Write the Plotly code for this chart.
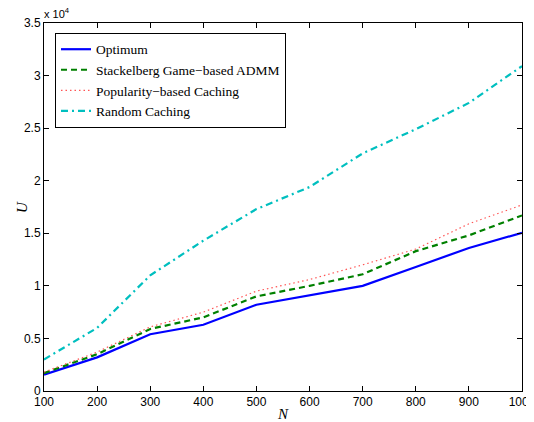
import plotly.graph_objects as go

N = [100, 200, 300, 400, 500, 600, 700, 800, 900, 1000]
optimum = [1550, 3200, 5400, 6300, 8200, 9100, 10000, 11800, 13600, 15050]
stackelberg = [1700, 3500, 5900, 7000, 9000, 10000, 11100, 13300, 14800, 16700]
popularity = [1800, 3700, 6100, 7500, 9500, 10600, 12000, 13500, 15900, 17700]
random_caching = [3000, 6000, 11000, 14300, 17300, 19400, 22600, 24900, 27400, 30900]

y_ticks = [0, 5000, 10000, 15000, 20000, 25000, 30000, 35000]
y_tick_text = ["0", "0.5", "1", "1.5", "2", "2.5", "3", "3.5"]

SERIF = "Liberation Serif"
SANS = "Liberation Sans"

fig = go.Figure()
fig.add_trace(go.Scatter(x=N, y=optimum, mode="lines", name="Optimum",
                         line=dict(color="#0000ff", width=2.2)))
fig.add_trace(go.Scatter(x=N, y=stackelberg, mode="lines", name="Stackelberg Game\u2212based ADMM",
                         line=dict(color="#008000", width=2.2, dash="6px,4px")))
fig.add_trace(go.Scatter(x=N, y=popularity, mode="lines", name="Popularity\u2212based Caching",
                         line=dict(color="#ff5555", width=1.2, dash="1.5px,3px")))
fig.add_trace(go.Scatter(x=N, y=random_caching, mode="lines", name="Random Caching",
                         line=dict(color="#00bfbf", width=2.2, dash="7px,4px,2px,4px")))

axis_common = dict(showline=True, linecolor="black", linewidth=1, mirror="ticks",
                   ticks="inside", ticklen=5, tickcolor="black", showgrid=False, zeroline=False,
                   automargin=False, ticklabeloverflow="allow",
                   tickfont=dict(family=SANS, size=12, color="black"))

fig.update_xaxes(range=[100, 1000], tickvals=N, ticktext=[str(v) for v in N],
                 title=dict(text="<i>N</i>", font=dict(family=SERIF, size=15, color="black"), standoff=0),
                 **axis_common)
fig.update_yaxes(range=[0, 35000], tickvals=y_ticks, ticktext=y_tick_text, **axis_common)

fig.add_annotation(xref="paper", yref="paper", x=0, y=0.5, xanchor="center", yanchor="middle",
                   text="<i>U</i>", showarrow=False, xshift=-22, textangle=-90,
                   font=dict(family=SERIF, size=15, color="black"))

fig.add_annotation(xref="paper", yref="paper", x=0, y=1, xanchor="left", yanchor="bottom",
                   text="x 10<sup>4</sup>", showarrow=False, yshift=1, xshift=-2,
                   font=dict(family=SANS, size=11, color="black"))

fig.update_layout(
    template="none",
    width=534, height=422,
    margin=dict(l=36, r=20, t=15, b=39, autoexpand=False),
    plot_bgcolor="white", paper_bgcolor="white",
    showlegend=True,
    legend=dict(x=0.023, y=0.973, xanchor="left", yanchor="top",
                bgcolor="white", bordercolor="black", borderwidth=1,
                font=dict(family=SERIF, size=13.5, color="black"),
                tracegroupgap=0, itemwidth=30),
)

fig.write_html("out.html")
